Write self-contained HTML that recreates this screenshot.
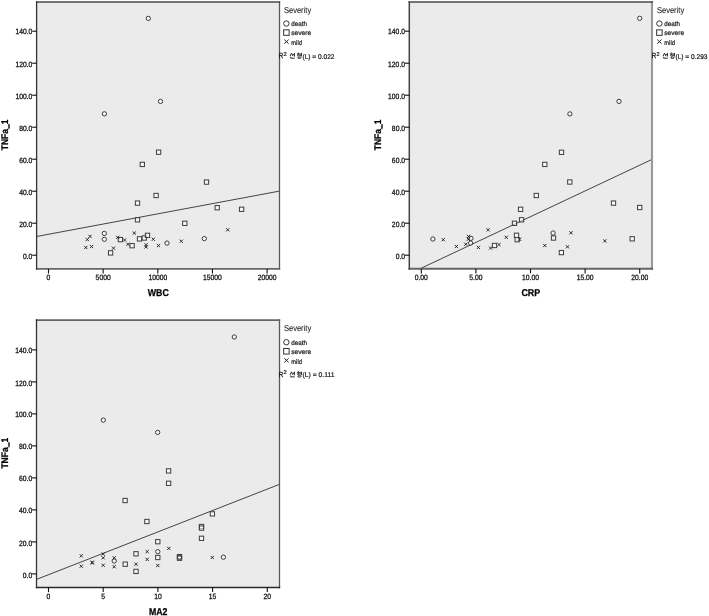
<!DOCTYPE html>
<html><head><meta charset="utf-8"><style>
html,body{margin:0;padding:0;background:#fff;}
body{width:709px;height:616px;overflow:hidden;}
svg{display:block;will-change:transform;text-rendering:geometricPrecision;}
text{font-family:"Liberation Sans", sans-serif;}
</style></head><body>
<svg width="709" height="616" viewBox="0 0 709 616" font-family='"Liberation Sans", sans-serif'><rect width="709" height="616" fill="#fff"/><rect x="36.6" y="2.0" width="242.9" height="266.9" fill="#ebebeb"/><rect x="409.3" y="2.1" width="242.7" height="266.7" fill="#ebebeb"/><rect x="36.5" y="320.1" width="243.0" height="267.4" fill="#ebebeb"/><clipPath id="cpWBC"><rect x="36.6" y="2.0" width="242.9" height="266.9"/></clipPath><g clip-path="url(#cpWBC)"><line x1="36.5" y1="236.5" x2="279.0" y2="191.2" stroke="#444" stroke-width="1.0"/><circle cx="148.3" cy="18.4" r="2.15" fill="#fff" fill-opacity="0.55" stroke="#3c3c3c" stroke-width="1.0"/><circle cx="160.5" cy="101.4" r="2.15" fill="#fff" fill-opacity="0.55" stroke="#3c3c3c" stroke-width="1.0"/><circle cx="104.4" cy="113.8" r="2.15" fill="#fff" fill-opacity="0.55" stroke="#3c3c3c" stroke-width="1.0"/><circle cx="104.3" cy="233.4" r="2.15" fill="#fff" fill-opacity="0.55" stroke="#3c3c3c" stroke-width="1.0"/><circle cx="104.3" cy="239.3" r="2.15" fill="#fff" fill-opacity="0.55" stroke="#3c3c3c" stroke-width="1.0"/><circle cx="167.0" cy="243.1" r="2.15" fill="#fff" fill-opacity="0.55" stroke="#3c3c3c" stroke-width="1.0"/><circle cx="204.3" cy="238.6" r="2.15" fill="#fff" fill-opacity="0.55" stroke="#3c3c3c" stroke-width="1.0"/><rect x="156.45" y="150.05" width="4.3" height="4.3" fill="#fff" fill-opacity="0.55" stroke="#3c3c3c" stroke-width="1.0"/><rect x="140.15" y="162.25" width="4.3" height="4.3" fill="#fff" fill-opacity="0.55" stroke="#3c3c3c" stroke-width="1.0"/><rect x="204.35" y="179.95" width="4.3" height="4.3" fill="#fff" fill-opacity="0.55" stroke="#3c3c3c" stroke-width="1.0"/><rect x="153.95" y="193.35" width="4.3" height="4.3" fill="#fff" fill-opacity="0.55" stroke="#3c3c3c" stroke-width="1.0"/><rect x="135.35" y="200.95" width="4.3" height="4.3" fill="#fff" fill-opacity="0.55" stroke="#3c3c3c" stroke-width="1.0"/><rect x="135.35" y="217.65" width="4.3" height="4.3" fill="#fff" fill-opacity="0.55" stroke="#3c3c3c" stroke-width="1.0"/><rect x="215.05" y="205.55" width="4.3" height="4.3" fill="#fff" fill-opacity="0.55" stroke="#3c3c3c" stroke-width="1.0"/><rect x="239.45" y="207.15" width="4.3" height="4.3" fill="#fff" fill-opacity="0.55" stroke="#3c3c3c" stroke-width="1.0"/><rect x="182.65" y="221.15" width="4.3" height="4.3" fill="#fff" fill-opacity="0.55" stroke="#3c3c3c" stroke-width="1.0"/><rect x="108.45" y="250.75" width="4.3" height="4.3" fill="#fff" fill-opacity="0.55" stroke="#3c3c3c" stroke-width="1.0"/><rect x="118.25" y="237.45" width="4.3" height="4.3" fill="#fff" fill-opacity="0.55" stroke="#3c3c3c" stroke-width="1.0"/><rect x="129.95" y="243.55" width="4.3" height="4.3" fill="#fff" fill-opacity="0.55" stroke="#3c3c3c" stroke-width="1.0"/><rect x="137.35" y="236.75" width="4.3" height="4.3" fill="#fff" fill-opacity="0.55" stroke="#3c3c3c" stroke-width="1.0"/><rect x="142.15" y="235.85" width="4.3" height="4.3" fill="#fff" fill-opacity="0.55" stroke="#3c3c3c" stroke-width="1.0"/><rect x="145.35" y="233.20" width="4.3" height="4.3" fill="#fff" fill-opacity="0.55" stroke="#3c3c3c" stroke-width="1.0"/><path d="M88.40,234.80L91.60,238.00M91.60,234.80L88.40,238.00" stroke="#222" stroke-width="0.95" fill="none"/><path d="M85.70,237.90L88.90,241.10M88.90,237.90L85.70,241.10" stroke="#222" stroke-width="0.95" fill="none"/><path d="M84.20,245.90L87.40,249.10M87.40,245.90L84.20,249.10" stroke="#222" stroke-width="0.95" fill="none"/><path d="M90.00,244.90L93.20,248.10M93.20,244.90L90.00,248.10" stroke="#222" stroke-width="0.95" fill="none"/><path d="M111.90,246.60L115.10,249.80M115.10,246.60L111.90,249.80" stroke="#222" stroke-width="0.95" fill="none"/><path d="M116.10,235.80L119.30,239.00M119.30,235.80L116.10,239.00" stroke="#222" stroke-width="0.95" fill="none"/><path d="M123.00,238.40L126.20,241.60M126.20,238.40L123.00,241.60" stroke="#222" stroke-width="0.95" fill="none"/><path d="M126.40,242.70L129.60,245.90M129.60,242.70L126.40,245.90" stroke="#222" stroke-width="0.95" fill="none"/><path d="M132.70,231.50L135.90,234.70M135.90,231.50L132.70,234.70" stroke="#222" stroke-width="0.95" fill="none"/><path d="M144.50,243.20L147.70,246.40M147.70,243.20L144.50,246.40" stroke="#222" stroke-width="0.95" fill="none"/><path d="M144.50,245.40L147.70,248.60M147.70,245.40L144.50,248.60" stroke="#222" stroke-width="0.95" fill="none"/><path d="M151.70,237.70L154.90,240.90M154.90,237.70L151.70,240.90" stroke="#222" stroke-width="0.95" fill="none"/><path d="M156.90,244.00L160.10,247.20M160.10,244.00L156.90,247.20" stroke="#222" stroke-width="0.95" fill="none"/><path d="M179.70,239.60L182.90,242.80M182.90,239.60L179.70,242.80" stroke="#222" stroke-width="0.95" fill="none"/><path d="M226.10,228.20L229.30,231.40M229.30,228.20L226.10,231.40" stroke="#222" stroke-width="0.95" fill="none"/></g><line x1="279.5" y1="1.3" x2="279.5" y2="269.84999999999997" stroke="#5a5a5a" stroke-width="1.3"/><line x1="35.95" y1="2.0" x2="280.15" y2="2.0" stroke="#4a4a4a" stroke-width="1.4"/><line x1="35.95" y1="268.9" x2="280.15" y2="268.9" stroke="#666" stroke-width="1.9"/><line x1="36.6" y1="1.3" x2="36.6" y2="269.84999999999997" stroke="#333" stroke-width="1.3"/><line x1="32.2" y1="255.2" x2="36.6" y2="255.2" stroke="#111" stroke-width="1.1"/><text x="32.35" y="259.25" font-size="7.7" text-anchor="end" font-weight="normal" fill="#1a1a1a" textLength="9.42" lengthAdjust="spacingAndGlyphs" stroke="#111" stroke-width="0.3">0.0</text><line x1="32.2" y1="223.2" x2="36.6" y2="223.2" stroke="#111" stroke-width="1.1"/><text x="32.35" y="227.2" font-size="7.7" text-anchor="end" font-weight="normal" fill="#1a1a1a" textLength="13.19" lengthAdjust="spacingAndGlyphs" stroke="#111" stroke-width="0.3">20.0</text><line x1="32.2" y1="191.2" x2="36.6" y2="191.2" stroke="#111" stroke-width="1.1"/><text x="32.35" y="194.6" font-size="7.7" text-anchor="end" font-weight="normal" fill="#1a1a1a" textLength="13.19" lengthAdjust="spacingAndGlyphs" stroke="#111" stroke-width="0.3">40.0</text><line x1="32.2" y1="159.2" x2="36.6" y2="159.2" stroke="#111" stroke-width="1.1"/><text x="32.35" y="162.54999999999998" font-size="7.7" text-anchor="end" font-weight="normal" fill="#1a1a1a" textLength="13.19" lengthAdjust="spacingAndGlyphs" stroke="#111" stroke-width="0.3">60.0</text><line x1="32.2" y1="127.19999999999999" x2="36.6" y2="127.19999999999999" stroke="#111" stroke-width="1.1"/><text x="32.35" y="130.6" font-size="7.7" text-anchor="end" font-weight="normal" fill="#1a1a1a" textLength="13.19" lengthAdjust="spacingAndGlyphs" stroke="#111" stroke-width="0.3">80.0</text><line x1="32.2" y1="95.19999999999999" x2="36.6" y2="95.19999999999999" stroke="#111" stroke-width="1.1"/><text x="32.35" y="98.56999999999998" font-size="7.7" text-anchor="end" font-weight="normal" fill="#1a1a1a" textLength="16.95" lengthAdjust="spacingAndGlyphs" stroke="#111" stroke-width="0.3">100.0</text><line x1="32.2" y1="63.19999999999999" x2="36.6" y2="63.19999999999999" stroke="#111" stroke-width="1.1"/><text x="32.35" y="66.84999999999998" font-size="7.7" text-anchor="end" font-weight="normal" fill="#1a1a1a" textLength="16.95" lengthAdjust="spacingAndGlyphs" stroke="#111" stroke-width="0.3">120.0</text><line x1="32.2" y1="31.19999999999999" x2="36.6" y2="31.19999999999999" stroke="#111" stroke-width="1.1"/><text x="32.35" y="34.39999999999999" font-size="7.7" text-anchor="end" font-weight="normal" fill="#1a1a1a" textLength="16.95" lengthAdjust="spacingAndGlyphs" stroke="#111" stroke-width="0.3">140.0</text><line x1="48.50" y1="268.9" x2="48.50" y2="273.5" stroke="#111" stroke-width="1.1"/><text x="48.5" y="279.84999999999997" font-size="7.7" text-anchor="middle" font-weight="normal" fill="#1a1a1a" textLength="3.77" lengthAdjust="spacingAndGlyphs" stroke="#111" stroke-width="0.3">0</text><line x1="103.15" y1="268.9" x2="103.15" y2="273.5" stroke="#111" stroke-width="1.1"/><text x="103.15" y="279.84999999999997" font-size="7.7" text-anchor="middle" font-weight="normal" fill="#1a1a1a" textLength="15.07" lengthAdjust="spacingAndGlyphs" stroke="#111" stroke-width="0.3">5000</text><line x1="157.80" y1="268.9" x2="157.80" y2="273.5" stroke="#111" stroke-width="1.1"/><text x="157.8" y="279.84999999999997" font-size="7.7" text-anchor="middle" font-weight="normal" fill="#1a1a1a" textLength="18.84" lengthAdjust="spacingAndGlyphs" stroke="#111" stroke-width="0.3">10000</text><line x1="212.45" y1="268.9" x2="212.45" y2="273.5" stroke="#111" stroke-width="1.1"/><text x="212.45" y="279.84999999999997" font-size="7.7" text-anchor="middle" font-weight="normal" fill="#1a1a1a" textLength="18.84" lengthAdjust="spacingAndGlyphs" stroke="#111" stroke-width="0.3">15000</text><line x1="267.10" y1="268.9" x2="267.10" y2="273.5" stroke="#111" stroke-width="1.1"/><text x="267.1" y="279.84999999999997" font-size="7.7" text-anchor="middle" font-weight="normal" fill="#1a1a1a" textLength="18.84" lengthAdjust="spacingAndGlyphs" stroke="#111" stroke-width="0.3">20000</text><text x="158.25" y="296.2" font-size="9.9" text-anchor="middle" font-weight="bold" fill="#000" textLength="21.0" lengthAdjust="spacingAndGlyphs" stroke="#000" stroke-width="0.25">WBC</text><text transform="translate(8.0,134.85) rotate(-90)" font-size="9.6" text-anchor="middle" font-weight="bold" fill="#000" stroke="#000" stroke-width="0.25" textLength="30.8" lengthAdjust="spacingAndGlyphs">TNFa_1</text><rect x="8.45" y="124.20" width="1.1" height="4.2" fill="#111"/><text x="283.90000000000003" y="12.7" font-size="8.6" text-anchor="start" font-weight="normal" fill="#262626" textLength="27.3" lengthAdjust="spacingAndGlyphs" stroke="#262626" stroke-width="0.1">Severity</text><circle cx="286.35" cy="23.55" r="2.7" fill="none" stroke="#333" stroke-width="1.0"/><text x="291.3" y="26.2" font-size="6.6" text-anchor="start" font-weight="normal" fill="#1a1a1a" textLength="15.7" lengthAdjust="spacingAndGlyphs" stroke="#1a1a1a" stroke-width="0.22">death</text><rect x="283.65" y="29.85" width="5.5" height="5.5" fill="none" stroke="#333" stroke-width="1.0"/><text x="291.3" y="35.4" font-size="6.6" text-anchor="start" font-weight="normal" fill="#1a1a1a" textLength="19.8" lengthAdjust="spacingAndGlyphs" stroke="#1a1a1a" stroke-width="0.22">severe</text><path d="M284.30,39.60L288.60,43.70M288.60,39.60L284.30,43.70" stroke="#222" stroke-width="1.0" fill="none"/><text x="291.3" y="44.8" font-size="6.6" text-anchor="start" font-weight="normal" fill="#1a1a1a" textLength="10.6" lengthAdjust="spacingAndGlyphs" stroke="#1a1a1a" stroke-width="0.22">mild</text><text x="278.8" y="58.3" font-size="7.4" text-anchor="start" font-weight="normal" fill="#1a1a1a" textLength="4.4" lengthAdjust="spacingAndGlyphs" stroke="#111" stroke-width="0.3">R</text><text x="283.6" y="55.6" font-size="5.6" text-anchor="start" font-weight="normal" fill="#1a1a1a" stroke="#1a1a1a" stroke-width="0.22">2</text><path d="M290.10,56.10L291.50,53.10L292.90,56.10M294.40,52.90L294.40,56.60M293.00,54.60L294.40,54.60M290.70,56.80L290.70,58.20L294.70,58.20M297.80,53.10L299.10,53.10M296.90,54.00L300.00,54.00M297.55,55.40a0.95,0.7 0 1,0 1.9,0a0.95,0.7 0 1,0 -1.9,0M301.40,52.90L301.40,56.50M300.10,54.00L301.40,54.00M300.10,55.30L301.40,55.30M297.80,57.70a1.6,0.75 0 1,0 3.2,0a1.6,0.75 0 1,0 -3.2,0" stroke="#1e1e1e" stroke-width="0.95" fill="none"/><text x="302.5" y="58.6" font-size="6.9" text-anchor="start" font-weight="normal" fill="#1a1a1a" textLength="32.0" lengthAdjust="spacingAndGlyphs" stroke="#1a1a1a" stroke-width="0.22">(L) = 0.022</text><clipPath id="cpCRP"><rect x="409.3" y="2.1" width="242.7" height="266.7"/></clipPath><g clip-path="url(#cpCRP)"><line x1="421.2" y1="268.2" x2="651.6" y2="159.6" stroke="#444" stroke-width="1.0"/><circle cx="639.7" cy="18.3" r="2.15" fill="#fff" fill-opacity="0.55" stroke="#3c3c3c" stroke-width="1.0"/><circle cx="619.0" cy="101.4" r="2.15" fill="#fff" fill-opacity="0.55" stroke="#3c3c3c" stroke-width="1.0"/><circle cx="569.9" cy="113.9" r="2.15" fill="#fff" fill-opacity="0.55" stroke="#3c3c3c" stroke-width="1.0"/><circle cx="432.9" cy="239.0" r="2.15" fill="#fff" fill-opacity="0.55" stroke="#3c3c3c" stroke-width="1.0"/><circle cx="471.0" cy="238.3" r="2.15" fill="#fff" fill-opacity="0.55" stroke="#3c3c3c" stroke-width="1.0"/><circle cx="470.6" cy="243.1" r="2.15" fill="#fff" fill-opacity="0.55" stroke="#3c3c3c" stroke-width="1.0"/><circle cx="553.1" cy="233.0" r="2.15" fill="#fff" fill-opacity="0.55" stroke="#3c3c3c" stroke-width="1.0"/><rect x="559.35" y="150.15" width="4.3" height="4.3" fill="#fff" fill-opacity="0.55" stroke="#3c3c3c" stroke-width="1.0"/><rect x="542.65" y="162.25" width="4.3" height="4.3" fill="#fff" fill-opacity="0.55" stroke="#3c3c3c" stroke-width="1.0"/><rect x="567.65" y="179.85" width="4.3" height="4.3" fill="#fff" fill-opacity="0.55" stroke="#3c3c3c" stroke-width="1.0"/><rect x="534.15" y="193.35" width="4.3" height="4.3" fill="#fff" fill-opacity="0.55" stroke="#3c3c3c" stroke-width="1.0"/><rect x="518.45" y="207.15" width="4.3" height="4.3" fill="#fff" fill-opacity="0.55" stroke="#3c3c3c" stroke-width="1.0"/><rect x="519.45" y="217.65" width="4.3" height="4.3" fill="#fff" fill-opacity="0.55" stroke="#3c3c3c" stroke-width="1.0"/><rect x="512.35" y="221.15" width="4.3" height="4.3" fill="#fff" fill-opacity="0.55" stroke="#3c3c3c" stroke-width="1.0"/><rect x="611.35" y="200.95" width="4.3" height="4.3" fill="#fff" fill-opacity="0.55" stroke="#3c3c3c" stroke-width="1.0"/><rect x="637.55" y="205.35" width="4.3" height="4.3" fill="#fff" fill-opacity="0.55" stroke="#3c3c3c" stroke-width="1.0"/><rect x="630.05" y="236.65" width="4.3" height="4.3" fill="#fff" fill-opacity="0.55" stroke="#3c3c3c" stroke-width="1.0"/><rect x="514.35" y="233.15" width="4.3" height="4.3" fill="#fff" fill-opacity="0.55" stroke="#3c3c3c" stroke-width="1.0"/><rect x="515.05" y="237.55" width="4.3" height="4.3" fill="#fff" fill-opacity="0.55" stroke="#3c3c3c" stroke-width="1.0"/><rect x="551.35" y="235.85" width="4.3" height="4.3" fill="#fff" fill-opacity="0.55" stroke="#3c3c3c" stroke-width="1.0"/><rect x="559.25" y="250.45" width="4.3" height="4.3" fill="#fff" fill-opacity="0.55" stroke="#3c3c3c" stroke-width="1.0"/><rect x="492.35" y="243.35" width="4.3" height="4.3" fill="#fff" fill-opacity="0.55" stroke="#3c3c3c" stroke-width="1.0"/><path d="M441.70,238.10L444.90,241.30M444.90,238.10L441.70,241.30" stroke="#222" stroke-width="0.95" fill="none"/><path d="M454.80,244.90L458.00,248.10M458.00,244.90L454.80,248.10" stroke="#222" stroke-width="0.95" fill="none"/><path d="M464.20,242.60L467.40,245.80M467.40,242.60L464.20,245.80" stroke="#222" stroke-width="0.95" fill="none"/><path d="M466.90,234.80L470.10,238.00M470.10,234.80L466.90,238.00" stroke="#222" stroke-width="0.95" fill="none"/><path d="M466.70,237.70L469.90,240.90M469.90,237.70L466.70,240.90" stroke="#222" stroke-width="0.95" fill="none"/><path d="M476.80,245.80L480.00,249.00M480.00,245.80L476.80,249.00" stroke="#222" stroke-width="0.95" fill="none"/><path d="M486.50,228.20L489.70,231.40M489.70,228.20L486.50,231.40" stroke="#222" stroke-width="0.95" fill="none"/><path d="M489.00,246.50L492.20,249.70M492.20,246.50L489.00,249.70" stroke="#222" stroke-width="0.95" fill="none"/><path d="M497.40,243.00L500.60,246.20M500.60,243.00L497.40,246.20" stroke="#222" stroke-width="0.95" fill="none"/><path d="M504.70,235.70L507.90,238.90M507.90,235.70L504.70,238.90" stroke="#222" stroke-width="0.95" fill="none"/><path d="M518.00,237.70L521.20,240.90M521.20,237.70L518.00,240.90" stroke="#222" stroke-width="0.95" fill="none"/><path d="M543.20,243.90L546.40,247.10M546.40,243.90L543.20,247.10" stroke="#222" stroke-width="0.95" fill="none"/><path d="M565.90,245.20L569.10,248.40M569.10,245.20L565.90,248.40" stroke="#222" stroke-width="0.95" fill="none"/><path d="M569.40,231.20L572.60,234.40M572.60,231.20L569.40,234.40" stroke="#222" stroke-width="0.95" fill="none"/><path d="M603.20,239.30L606.40,242.50M606.40,239.30L603.20,242.50" stroke="#222" stroke-width="0.95" fill="none"/></g><line x1="652.0" y1="1.35" x2="652.0" y2="269.8" stroke="#999" stroke-width="2.1"/><line x1="408.55" y1="2.1" x2="653.05" y2="2.1" stroke="#4a4a4a" stroke-width="1.5"/><line x1="408.55" y1="268.8" x2="653.05" y2="268.8" stroke="#666" stroke-width="2.0"/><line x1="409.3" y1="1.35" x2="409.3" y2="269.8" stroke="#444" stroke-width="1.5"/><line x1="404.90000000000003" y1="255.2" x2="409.3" y2="255.2" stroke="#111" stroke-width="1.1"/><text x="405.05" y="259.25" font-size="7.7" text-anchor="end" font-weight="normal" fill="#1a1a1a" textLength="9.42" lengthAdjust="spacingAndGlyphs" stroke="#111" stroke-width="0.3">0.0</text><line x1="404.90000000000003" y1="223.2" x2="409.3" y2="223.2" stroke="#111" stroke-width="1.1"/><text x="405.05" y="227.2" font-size="7.7" text-anchor="end" font-weight="normal" fill="#1a1a1a" textLength="13.19" lengthAdjust="spacingAndGlyphs" stroke="#111" stroke-width="0.3">20.0</text><line x1="404.90000000000003" y1="191.2" x2="409.3" y2="191.2" stroke="#111" stroke-width="1.1"/><text x="405.05" y="194.6" font-size="7.7" text-anchor="end" font-weight="normal" fill="#1a1a1a" textLength="13.19" lengthAdjust="spacingAndGlyphs" stroke="#111" stroke-width="0.3">40.0</text><line x1="404.90000000000003" y1="159.2" x2="409.3" y2="159.2" stroke="#111" stroke-width="1.1"/><text x="405.05" y="162.54999999999998" font-size="7.7" text-anchor="end" font-weight="normal" fill="#1a1a1a" textLength="13.19" lengthAdjust="spacingAndGlyphs" stroke="#111" stroke-width="0.3">60.0</text><line x1="404.90000000000003" y1="127.19999999999999" x2="409.3" y2="127.19999999999999" stroke="#111" stroke-width="1.1"/><text x="405.05" y="130.6" font-size="7.7" text-anchor="end" font-weight="normal" fill="#1a1a1a" textLength="13.19" lengthAdjust="spacingAndGlyphs" stroke="#111" stroke-width="0.3">80.0</text><line x1="404.90000000000003" y1="95.19999999999999" x2="409.3" y2="95.19999999999999" stroke="#111" stroke-width="1.1"/><text x="405.05" y="98.56999999999998" font-size="7.7" text-anchor="end" font-weight="normal" fill="#1a1a1a" textLength="16.95" lengthAdjust="spacingAndGlyphs" stroke="#111" stroke-width="0.3">100.0</text><line x1="404.90000000000003" y1="63.19999999999999" x2="409.3" y2="63.19999999999999" stroke="#111" stroke-width="1.1"/><text x="405.05" y="66.84999999999998" font-size="7.7" text-anchor="end" font-weight="normal" fill="#1a1a1a" textLength="16.95" lengthAdjust="spacingAndGlyphs" stroke="#111" stroke-width="0.3">120.0</text><line x1="404.90000000000003" y1="31.19999999999999" x2="409.3" y2="31.19999999999999" stroke="#111" stroke-width="1.1"/><text x="405.05" y="34.39999999999999" font-size="7.7" text-anchor="end" font-weight="normal" fill="#1a1a1a" textLength="16.95" lengthAdjust="spacingAndGlyphs" stroke="#111" stroke-width="0.3">140.0</text><line x1="421.30" y1="268.8" x2="421.30" y2="273.40000000000003" stroke="#111" stroke-width="1.1"/><text x="421.3" y="279.75" font-size="7.7" text-anchor="middle" font-weight="normal" fill="#1a1a1a" textLength="13.19" lengthAdjust="spacingAndGlyphs" stroke="#111" stroke-width="0.3">0.00</text><line x1="475.90" y1="268.8" x2="475.90" y2="273.40000000000003" stroke="#111" stroke-width="1.1"/><text x="475.90000000000003" y="279.75" font-size="7.7" text-anchor="middle" font-weight="normal" fill="#1a1a1a" textLength="13.19" lengthAdjust="spacingAndGlyphs" stroke="#111" stroke-width="0.3">5.00</text><line x1="530.50" y1="268.8" x2="530.50" y2="273.40000000000003" stroke="#111" stroke-width="1.1"/><text x="530.5" y="279.75" font-size="7.7" text-anchor="middle" font-weight="normal" fill="#1a1a1a" textLength="16.95" lengthAdjust="spacingAndGlyphs" stroke="#111" stroke-width="0.3">10.00</text><line x1="585.10" y1="268.8" x2="585.10" y2="273.40000000000003" stroke="#111" stroke-width="1.1"/><text x="585.1" y="279.75" font-size="7.7" text-anchor="middle" font-weight="normal" fill="#1a1a1a" textLength="16.95" lengthAdjust="spacingAndGlyphs" stroke="#111" stroke-width="0.3">15.00</text><line x1="639.70" y1="268.8" x2="639.70" y2="273.40000000000003" stroke="#111" stroke-width="1.1"/><text x="639.7" y="279.75" font-size="7.7" text-anchor="middle" font-weight="normal" fill="#1a1a1a" textLength="16.95" lengthAdjust="spacingAndGlyphs" stroke="#111" stroke-width="0.3">20.00</text><text x="530.85" y="296.2" font-size="9.9" text-anchor="middle" font-weight="bold" fill="#000" textLength="18.9" lengthAdjust="spacingAndGlyphs" stroke="#000" stroke-width="0.25">CRP</text><text transform="translate(381.0,134.85000000000002) rotate(-90)" font-size="9.6" text-anchor="middle" font-weight="bold" fill="#000" stroke="#000" stroke-width="0.25" textLength="30.8" lengthAdjust="spacingAndGlyphs">TNFa_1</text><rect x="381.45" y="124.30" width="1.1" height="4.2" fill="#111"/><text x="656.9" y="12.7" font-size="8.6" text-anchor="start" font-weight="normal" fill="#262626" textLength="27.3" lengthAdjust="spacingAndGlyphs" stroke="#262626" stroke-width="0.1">Severity</text><circle cx="659.3499999999999" cy="23.55" r="2.7" fill="none" stroke="#333" stroke-width="1.0"/><text x="664.3" y="26.2" font-size="6.6" text-anchor="start" font-weight="normal" fill="#1a1a1a" textLength="15.7" lengthAdjust="spacingAndGlyphs" stroke="#1a1a1a" stroke-width="0.22">death</text><rect x="656.65" y="29.85" width="5.5" height="5.5" fill="none" stroke="#333" stroke-width="1.0"/><text x="664.3" y="35.4" font-size="6.6" text-anchor="start" font-weight="normal" fill="#1a1a1a" textLength="19.8" lengthAdjust="spacingAndGlyphs" stroke="#1a1a1a" stroke-width="0.22">severe</text><path d="M657.30,39.60L661.60,43.70M661.60,39.60L657.30,43.70" stroke="#222" stroke-width="1.0" fill="none"/><text x="664.3" y="44.8" font-size="6.6" text-anchor="start" font-weight="normal" fill="#1a1a1a" textLength="10.6" lengthAdjust="spacingAndGlyphs" stroke="#1a1a1a" stroke-width="0.22">mild</text><text x="651.8" y="58.3" font-size="7.4" text-anchor="start" font-weight="normal" fill="#1a1a1a" textLength="4.4" lengthAdjust="spacingAndGlyphs" stroke="#111" stroke-width="0.3">R</text><text x="656.5999999999999" y="55.6" font-size="5.6" text-anchor="start" font-weight="normal" fill="#1a1a1a" stroke="#1a1a1a" stroke-width="0.22">2</text><path d="M663.10,56.10L664.50,53.10L665.90,56.10M667.40,52.90L667.40,56.60M666.00,54.60L667.40,54.60M663.70,56.80L663.70,58.20L667.70,58.20M670.80,53.10L672.10,53.10M669.90,54.00L673.00,54.00M670.55,55.40a0.95,0.7 0 1,0 1.9,0a0.95,0.7 0 1,0 -1.9,0M674.40,52.90L674.40,56.50M673.10,54.00L674.40,54.00M673.10,55.30L674.40,55.30M670.80,57.70a1.6,0.75 0 1,0 3.2,0a1.6,0.75 0 1,0 -3.2,0" stroke="#1e1e1e" stroke-width="0.95" fill="none"/><text x="675.5" y="58.6" font-size="6.9" text-anchor="start" font-weight="normal" fill="#1a1a1a" textLength="32.0" lengthAdjust="spacingAndGlyphs" stroke="#1a1a1a" stroke-width="0.22">(L) = 0.293</text><clipPath id="cpMA2"><rect x="36.5" y="320.1" width="243.0" height="267.4"/></clipPath><g clip-path="url(#cpMA2)"><line x1="36.5" y1="579.4" x2="279.3" y2="484.4" stroke="#444" stroke-width="1.0"/><circle cx="234.3" cy="337.0" r="2.15" fill="#fff" fill-opacity="0.55" stroke="#3c3c3c" stroke-width="1.0"/><circle cx="103.3" cy="420.1" r="2.15" fill="#fff" fill-opacity="0.55" stroke="#3c3c3c" stroke-width="1.0"/><circle cx="157.7" cy="432.4" r="2.15" fill="#fff" fill-opacity="0.55" stroke="#3c3c3c" stroke-width="1.0"/><circle cx="114.2" cy="561.0" r="2.15" fill="#fff" fill-opacity="0.55" stroke="#3c3c3c" stroke-width="1.0"/><circle cx="157.8" cy="551.7" r="2.15" fill="#fff" fill-opacity="0.55" stroke="#3c3c3c" stroke-width="1.0"/><circle cx="223.4" cy="557.2" r="2.15" fill="#fff" fill-opacity="0.55" stroke="#3c3c3c" stroke-width="1.0"/><rect x="166.45" y="468.75" width="4.3" height="4.3" fill="#fff" fill-opacity="0.55" stroke="#3c3c3c" stroke-width="1.0"/><rect x="166.45" y="481.15" width="4.3" height="4.3" fill="#fff" fill-opacity="0.55" stroke="#3c3c3c" stroke-width="1.0"/><rect x="122.95" y="498.35" width="4.3" height="4.3" fill="#fff" fill-opacity="0.55" stroke="#3c3c3c" stroke-width="1.0"/><rect x="144.75" y="519.35" width="4.3" height="4.3" fill="#fff" fill-opacity="0.55" stroke="#3c3c3c" stroke-width="1.0"/><rect x="155.65" y="539.55" width="4.3" height="4.3" fill="#fff" fill-opacity="0.55" stroke="#3c3c3c" stroke-width="1.0"/><rect x="210.25" y="511.75" width="4.3" height="4.3" fill="#fff" fill-opacity="0.55" stroke="#3c3c3c" stroke-width="1.0"/><rect x="199.35" y="524.35" width="4.3" height="4.3" fill="#fff" fill-opacity="0.55" stroke="#3c3c3c" stroke-width="1.0"/><rect x="199.35" y="525.95" width="4.3" height="4.3" fill="#fff" fill-opacity="0.55" stroke="#3c3c3c" stroke-width="1.0"/><rect x="199.35" y="536.15" width="4.3" height="4.3" fill="#fff" fill-opacity="0.55" stroke="#3c3c3c" stroke-width="1.0"/><rect x="123.05" y="562.05" width="4.3" height="4.3" fill="#fff" fill-opacity="0.55" stroke="#3c3c3c" stroke-width="1.0"/><rect x="133.85" y="551.65" width="4.3" height="4.3" fill="#fff" fill-opacity="0.55" stroke="#3c3c3c" stroke-width="1.0"/><rect x="133.85" y="569.25" width="4.3" height="4.3" fill="#fff" fill-opacity="0.55" stroke="#3c3c3c" stroke-width="1.0"/><rect x="155.65" y="555.35" width="4.3" height="4.3" fill="#fff" fill-opacity="0.55" stroke="#3c3c3c" stroke-width="1.0"/><rect x="177.35" y="554.45" width="4.3" height="4.3" fill="#fff" fill-opacity="0.55" stroke="#3c3c3c" stroke-width="1.0"/><rect x="177.35" y="556.05" width="4.3" height="4.3" fill="#fff" fill-opacity="0.55" stroke="#3c3c3c" stroke-width="1.0"/><circle cx="179.5" cy="557.4" r="2.15" fill="none" stroke="#3c3c3c" stroke-width="1.0"/><path d="M79.70,554.20L82.90,557.40M82.90,554.20L79.70,557.40" stroke="#222" stroke-width="0.95" fill="none"/><path d="M79.70,564.60L82.90,567.80M82.90,564.60L79.70,567.80" stroke="#222" stroke-width="0.95" fill="none"/><path d="M90.70,560.60L93.90,563.80M93.90,560.60L90.70,563.80" stroke="#222" stroke-width="0.95" fill="none"/><path d="M90.70,561.40L93.90,564.60M93.90,561.40L90.70,564.60" stroke="#222" stroke-width="0.95" fill="none"/><path d="M101.60,552.40L104.80,555.60M104.80,552.40L101.60,555.60" stroke="#222" stroke-width="0.95" fill="none"/><path d="M101.60,556.20L104.80,559.40M104.80,556.20L101.60,559.40" stroke="#222" stroke-width="0.95" fill="none"/><path d="M101.60,563.70L104.80,566.90M104.80,563.70L101.60,566.90" stroke="#222" stroke-width="0.95" fill="none"/><path d="M112.60,556.20L115.80,559.40M115.80,556.20L112.60,559.40" stroke="#222" stroke-width="0.95" fill="none"/><path d="M112.60,565.10L115.80,568.30M115.80,565.10L112.60,568.30" stroke="#222" stroke-width="0.95" fill="none"/><path d="M134.40,562.60L137.60,565.80M137.60,562.60L134.40,565.80" stroke="#222" stroke-width="0.95" fill="none"/><path d="M145.60,550.00L148.80,553.20M148.80,550.00L145.60,553.20" stroke="#222" stroke-width="0.95" fill="none"/><path d="M145.60,557.80L148.80,561.00M148.80,557.80L145.60,561.00" stroke="#222" stroke-width="0.95" fill="none"/><path d="M156.20,563.90L159.40,567.10M159.40,563.90L156.20,567.10" stroke="#222" stroke-width="0.95" fill="none"/><path d="M167.20,546.80L170.40,550.00M170.40,546.80L167.20,550.00" stroke="#222" stroke-width="0.95" fill="none"/><path d="M210.70,555.90L213.90,559.10M213.90,555.90L210.70,559.10" stroke="#222" stroke-width="0.95" fill="none"/></g><line x1="279.5" y1="319.3" x2="279.5" y2="588.2" stroke="#5a5a5a" stroke-width="1.3"/><line x1="35.85" y1="320.1" x2="280.15" y2="320.1" stroke="#666" stroke-width="1.6"/><line x1="35.85" y1="587.5" x2="280.15" y2="587.5" stroke="#2a2a2a" stroke-width="1.4"/><line x1="36.5" y1="319.3" x2="36.5" y2="588.2" stroke="#333" stroke-width="1.3"/><line x1="32.1" y1="573.9" x2="36.5" y2="573.9" stroke="#111" stroke-width="1.1"/><text x="32.25" y="577.95" font-size="7.7" text-anchor="end" font-weight="normal" fill="#1a1a1a" textLength="9.42" lengthAdjust="spacingAndGlyphs" stroke="#111" stroke-width="0.3">0.0</text><line x1="32.1" y1="541.9" x2="36.5" y2="541.9" stroke="#111" stroke-width="1.1"/><text x="32.25" y="545.9" font-size="7.7" text-anchor="end" font-weight="normal" fill="#1a1a1a" textLength="13.19" lengthAdjust="spacingAndGlyphs" stroke="#111" stroke-width="0.3">20.0</text><line x1="32.1" y1="509.9" x2="36.5" y2="509.9" stroke="#111" stroke-width="1.1"/><text x="32.25" y="513.3" font-size="7.7" text-anchor="end" font-weight="normal" fill="#1a1a1a" textLength="13.19" lengthAdjust="spacingAndGlyphs" stroke="#111" stroke-width="0.3">40.0</text><line x1="32.1" y1="477.9" x2="36.5" y2="477.9" stroke="#111" stroke-width="1.1"/><text x="32.25" y="481.25" font-size="7.7" text-anchor="end" font-weight="normal" fill="#1a1a1a" textLength="13.19" lengthAdjust="spacingAndGlyphs" stroke="#111" stroke-width="0.3">60.0</text><line x1="32.1" y1="445.9" x2="36.5" y2="445.9" stroke="#111" stroke-width="1.1"/><text x="32.25" y="449.3" font-size="7.7" text-anchor="end" font-weight="normal" fill="#1a1a1a" textLength="13.19" lengthAdjust="spacingAndGlyphs" stroke="#111" stroke-width="0.3">80.0</text><line x1="32.1" y1="413.9" x2="36.5" y2="413.9" stroke="#111" stroke-width="1.1"/><text x="32.25" y="417.27" font-size="7.7" text-anchor="end" font-weight="normal" fill="#1a1a1a" textLength="16.95" lengthAdjust="spacingAndGlyphs" stroke="#111" stroke-width="0.3">100.0</text><line x1="32.1" y1="381.9" x2="36.5" y2="381.9" stroke="#111" stroke-width="1.1"/><text x="32.25" y="385.55" font-size="7.7" text-anchor="end" font-weight="normal" fill="#1a1a1a" textLength="16.95" lengthAdjust="spacingAndGlyphs" stroke="#111" stroke-width="0.3">120.0</text><line x1="32.1" y1="349.9" x2="36.5" y2="349.9" stroke="#111" stroke-width="1.1"/><text x="32.25" y="353.1" font-size="7.7" text-anchor="end" font-weight="normal" fill="#1a1a1a" textLength="16.95" lengthAdjust="spacingAndGlyphs" stroke="#111" stroke-width="0.3">140.0</text><line x1="48.50" y1="587.5" x2="48.50" y2="592.1" stroke="#111" stroke-width="1.1"/><text x="48.5" y="599.0500000000001" font-size="7.7" text-anchor="middle" font-weight="normal" fill="#1a1a1a" textLength="3.77" lengthAdjust="spacingAndGlyphs" stroke="#111" stroke-width="0.3">0</text><line x1="103.20" y1="587.5" x2="103.20" y2="592.1" stroke="#111" stroke-width="1.1"/><text x="103.2" y="599.0500000000001" font-size="7.7" text-anchor="middle" font-weight="normal" fill="#1a1a1a" textLength="3.77" lengthAdjust="spacingAndGlyphs" stroke="#111" stroke-width="0.3">5</text><line x1="157.90" y1="587.5" x2="157.90" y2="592.1" stroke="#111" stroke-width="1.1"/><text x="157.9" y="599.0500000000001" font-size="7.7" text-anchor="middle" font-weight="normal" fill="#1a1a1a" textLength="7.53" lengthAdjust="spacingAndGlyphs" stroke="#111" stroke-width="0.3">10</text><line x1="212.60" y1="587.5" x2="212.60" y2="592.1" stroke="#111" stroke-width="1.1"/><text x="212.60000000000002" y="599.0500000000001" font-size="7.7" text-anchor="middle" font-weight="normal" fill="#1a1a1a" textLength="7.53" lengthAdjust="spacingAndGlyphs" stroke="#111" stroke-width="0.3">15</text><line x1="267.30" y1="587.5" x2="267.30" y2="592.1" stroke="#111" stroke-width="1.1"/><text x="267.3" y="599.0500000000001" font-size="7.7" text-anchor="middle" font-weight="normal" fill="#1a1a1a" textLength="7.53" lengthAdjust="spacingAndGlyphs" stroke="#111" stroke-width="0.3">20</text><text x="158.2" y="614.9" font-size="9.9" text-anchor="middle" font-weight="bold" fill="#000" textLength="18.5" lengthAdjust="spacingAndGlyphs" stroke="#000" stroke-width="0.25">MA2</text><text transform="translate(8.0,453.2) rotate(-90)" font-size="9.6" text-anchor="middle" font-weight="bold" fill="#000" stroke="#000" stroke-width="0.25" textLength="30.8" lengthAdjust="spacingAndGlyphs">TNFa_1</text><rect x="8.45" y="442.30" width="1.1" height="4.2" fill="#111"/><text x="283.90000000000003" y="331.4" font-size="8.6" text-anchor="start" font-weight="normal" fill="#262626" textLength="27.3" lengthAdjust="spacingAndGlyphs" stroke="#262626" stroke-width="0.1">Severity</text><circle cx="286.35" cy="342.25" r="2.7" fill="none" stroke="#333" stroke-width="1.0"/><text x="291.3" y="344.9" font-size="6.6" text-anchor="start" font-weight="normal" fill="#1a1a1a" textLength="15.7" lengthAdjust="spacingAndGlyphs" stroke="#1a1a1a" stroke-width="0.22">death</text><rect x="283.65" y="348.55" width="5.5" height="5.5" fill="none" stroke="#333" stroke-width="1.0"/><text x="291.3" y="354.09999999999997" font-size="6.6" text-anchor="start" font-weight="normal" fill="#1a1a1a" textLength="19.8" lengthAdjust="spacingAndGlyphs" stroke="#1a1a1a" stroke-width="0.22">severe</text><path d="M284.30,358.30L288.60,362.40M288.60,358.30L284.30,362.40" stroke="#222" stroke-width="1.0" fill="none"/><text x="291.3" y="363.5" font-size="6.6" text-anchor="start" font-weight="normal" fill="#1a1a1a" textLength="10.6" lengthAdjust="spacingAndGlyphs" stroke="#1a1a1a" stroke-width="0.22">mild</text><text x="278.8" y="377.0" font-size="7.4" text-anchor="start" font-weight="normal" fill="#1a1a1a" textLength="4.4" lengthAdjust="spacingAndGlyphs" stroke="#111" stroke-width="0.3">R</text><text x="283.6" y="374.3" font-size="5.6" text-anchor="start" font-weight="normal" fill="#1a1a1a" stroke="#1a1a1a" stroke-width="0.22">2</text><path d="M290.10,374.80L291.50,371.80L292.90,374.80M294.40,371.60L294.40,375.30M293.00,373.30L294.40,373.30M290.70,375.50L290.70,376.90L294.70,376.90M297.80,371.80L299.10,371.80M296.90,372.70L300.00,372.70M297.55,374.10a0.95,0.7 0 1,0 1.9,0a0.95,0.7 0 1,0 -1.9,0M301.40,371.60L301.40,375.20M300.10,372.70L301.40,372.70M300.10,374.00L301.40,374.00M297.80,376.40a1.6,0.75 0 1,0 3.2,0a1.6,0.75 0 1,0 -3.2,0" stroke="#1e1e1e" stroke-width="0.95" fill="none"/><text x="302.5" y="377.3" font-size="6.9" text-anchor="start" font-weight="normal" fill="#1a1a1a" textLength="32.0" lengthAdjust="spacingAndGlyphs" stroke="#1a1a1a" stroke-width="0.22">(L) = 0.111</text></svg>
</body></html>
